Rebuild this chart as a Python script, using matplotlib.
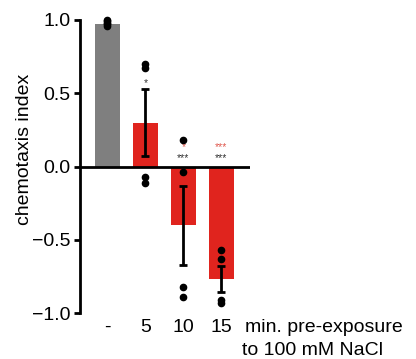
import numpy as np
import matplotlib
matplotlib.use("Agg")
import matplotlib.pyplot as plt

plt.rcParams['font.family'] = ['Liberation Sans', 'DejaVu Sans']

# data
groups = ['-', '5', '10', '15']
means = [0.97, 0.30, -0.40, -0.77]
sems = [0.0, 0.23, 0.27, 0.09]
points = [
    [1.00, 0.99, 0.98, 0.97, 0.96],
    [0.70, 0.67, -0.07, -0.11],
    [0.18, -0.04, -0.82, -0.89],
    [-0.57, -0.63, -0.91, -0.93],
]
bar_colors = ['#7f7f7f', '#e0241e', '#e0241e', '#e0241e']
# significance marks: (group, y, text, colour)
marks = [
    (1, 0.57, '*', '#333333'),
    (2, 0.13, '*', '#e05a50'),
    (2, 0.06, '***', '#333333'),
    (3, 0.13, '***', '#e05a50'),
    (3, 0.06, '***', '#333333'),
]

fig = plt.figure(figsize=(4.16, 3.59), dpi=100)
ax = fig.add_axes([80 / 416, 46 / 359, 170 / 416, 293 / 359])

x = np.arange(len(groups))
ax.bar(x, means, width=0.66, color=bar_colors, zorder=1)
for i in range(1, len(groups)):
    ax.errorbar(x[i], means[i], yerr=sems[i], color='black', lw=2,
                capsize=3, capthick=2, zorder=3)
for i, pts in enumerate(points):
    ax.plot([x[i]] * len(pts), pts, 'o', color='black', ms=4.5,
            zorder=4, clip_on=False)
for i, yv, txt, col in marks:
    ax.text(x[i], yv, txt, color=col, fontsize=7.5, ha='center', va='center')

ax.axhline(0, color='black', lw=2, zorder=2)

ax.set_xlim(-0.72, 3.75)
ax.set_ylim(-1.0, 1.0)
ax.set_yticks([-1.0, -0.5, 0.0, 0.5, 1.0])
ax.set_yticklabels(['\u22121.0', '\u22120.5', '0.0', '0.5', '1.0'])
ax.set_xticks(x)
ax.set_xticklabels(groups)
ax.tick_params(axis='x', length=0, pad=4, labelsize=14)
ax.tick_params(axis='y', length=4, width=2, pad=3, labelsize=14)
ax.set_ylabel('chemotaxis index', fontsize=14)
ax.yaxis.set_label_coords(-0.275, 0.56)

for s in ['top', 'right', 'bottom']:
    ax.spines[s].set_visible(False)
ax.spines['left'].set_linewidth(2)

fig.text(245 / 416, 1 - 332 / 359, 'min. pre-exposure', fontsize=14,
         ha='left', va='baseline')
fig.text(242 / 416, 1 - 355 / 359, 'to 100 mM NaCl', fontsize=14,
         ha='left', va='baseline')

fig.savefig('out.png', dpi=100)
